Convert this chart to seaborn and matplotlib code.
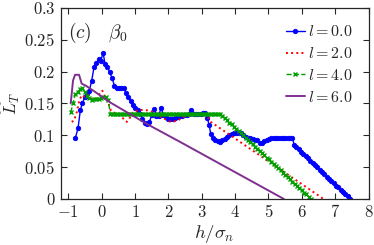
import matplotlib
matplotlib.use("Agg")
import matplotlib.pyplot as plt
import seaborn as sns
from matplotlib.ticker import FuncFormatter

# ---------------- data ----------------
labels = [r"$l = 0.0$", r"$l = 2.0$", r"$l = 4.0$", r"$l = 6.0$"]

bx = [-0.79, -0.71, -0.64, -0.58, -0.51, -0.44, -0.37, -0.30, -0.23, -0.16, -0.09, -0.03,
      0.04, 0.10, 0.17, 0.24, 0.31, 0.38, 0.45, 0.52, 0.59, 0.66,
      0.73, 0.80, 0.87, 0.94, 1.01, 1.08, 1.15, 1.22, 1.29, 1.36,
      1.43, 1.50, 1.57, 1.64, 1.71, 1.78, 1.85, 1.92, 1.99, 2.06,
      2.13, 2.20, 2.27, 2.34, 2.41, 2.48, 2.55, 2.62, 2.69, 2.76,
      2.83, 2.90, 2.97, 3.04, 3.11,
      3.17, 3.22, 3.27,
      3.34, 3.41, 3.48, 3.55, 3.62, 3.69, 3.76, 3.83, 3.90, 3.97,
      4.04, 4.11, 4.18, 4.25, 4.32, 4.39, 4.46, 4.53, 4.60, 4.67,
      4.74, 4.81, 4.88, 4.95, 5.02, 5.09, 5.16, 5.23, 5.30, 5.37,
      5.44, 5.51, 5.58, 5.65, 5.72,
      5.77, 5.84, 5.91, 5.98, 6.05, 6.12, 6.19, 6.26, 6.33, 6.40,
      6.47, 6.54, 6.61, 6.68, 6.75, 6.82, 6.89, 6.96, 7.03, 7.10,
      7.17, 7.24, 7.31, 7.38, 7.45]
by = [0.096, 0.111, 0.140, 0.150, 0.160, 0.165, 0.170, 0.186, 0.207, 0.213, 0.220, 0.216,
      0.230, 0.212, 0.208, 0.199, 0.190, 0.178, 0.175, 0.175, 0.175, 0.174,
      0.166, 0.160, 0.154, 0.147, 0.143, 0.139, 0.134, 0.126, 0.120, 0.118,
      0.121, 0.132, 0.142, 0.131, 0.131, 0.143, 0.132, 0.128, 0.126, 0.126,
      0.125, 0.127, 0.129, 0.130, 0.131, 0.132, 0.132, 0.133, 0.139, 0.134,
      0.134, 0.134, 0.134, 0.135, 0.135,
      0.127, 0.116, 0.102,
      0.096, 0.093, 0.091, 0.089, 0.092, 0.094, 0.097, 0.101, 0.102, 0.103,
      0.103, 0.104, 0.104, 0.101, 0.097, 0.096, 0.095, 0.094, 0.093, 0.092,
      0.088, 0.088, 0.091, 0.093, 0.094, 0.095, 0.096, 0.096, 0.096, 0.096,
      0.096, 0.096, 0.096, 0.096, 0.096,
      0.085, 0.081, 0.078, 0.074, 0.071, 0.067, 0.064, 0.060, 0.057, 0.053,
      0.050, 0.046, 0.042, 0.039, 0.035, 0.032, 0.028, 0.025, 0.021, 0.018,
      0.014, 0.011, 0.007, 0.004, 0.000]

rx = [-0.90, -0.83, -0.75, -0.67, -0.60, -0.50, -0.40, -0.30, -0.15, -0.04, 0.02, 0.10,
      0.19, 0.28, 0.43, 0.58, 0.68, 0.75, 0.83, 0.93, 1.08, 1.23, 1.38, 1.53, 1.68,
      1.88, 2.07, 2.27, 2.47, 2.67, 2.97, 3.17, 3.27, 6.65]
ry = [0.121, 0.123, 0.136, 0.155, 0.163, 0.160, 0.163, 0.157, 0.157, 0.168, 0.170, 0.160,
      0.152, 0.138, 0.134, 0.129, 0.125, 0.121, 0.126, 0.136, 0.139, 0.140, 0.139, 0.137, 0.131,
      0.126, 0.121, 0.123, 0.129, 0.131, 0.133, 0.129, 0.121, 0.000]

gx = [-0.93, -0.86, -0.79, -0.72, -0.65, -0.58, -0.51, -0.44, -0.37, -0.30,
      -0.23, -0.16, -0.09, -0.02, 0.05, 0.12, 0.19, 0.26,
      0.33, 0.40, 0.47, 0.54, 0.61, 0.68, 0.75, 0.82, 0.89, 0.96,
      1.03, 1.10, 1.17, 1.24, 1.31, 1.38, 1.45, 1.52, 1.59, 1.66,
      1.73, 1.80, 1.87, 1.94, 2.01, 2.08, 2.15, 2.22, 2.29, 2.36,
      2.43, 2.50, 2.57, 2.64, 2.71, 2.78, 2.85, 2.92, 2.99, 3.06,
      3.13, 3.20, 3.27, 3.34, 3.41, 3.48, 3.55,
      3.62, 3.69, 3.76, 3.83, 3.90, 3.97, 4.04, 4.11, 4.18, 4.25,
      4.32, 4.39, 4.46, 4.53, 4.60, 4.67, 4.74, 4.81, 4.88, 4.95,
      5.02, 5.09, 5.16, 5.23, 5.30, 5.37, 5.44, 5.51, 5.58, 5.65,
      5.72, 5.79, 5.86, 5.93, 6.00, 6.07, 6.14, 6.21, 6.28]
gy = [0.136, 0.150, 0.165, 0.168, 0.172, 0.174, 0.168, 0.162, 0.158, 0.155,
      0.157, 0.157, 0.157, 0.158, 0.160, 0.160, 0.155, 0.134,
      0.134, 0.134, 0.134, 0.134, 0.134, 0.134, 0.134, 0.134, 0.134, 0.134,
      0.134, 0.134, 0.134, 0.134, 0.134, 0.134, 0.134, 0.134, 0.134, 0.134,
      0.134, 0.134, 0.134, 0.134, 0.134, 0.134, 0.134, 0.134, 0.134, 0.134,
      0.134, 0.134, 0.134, 0.134, 0.134, 0.134, 0.134, 0.134, 0.134, 0.134,
      0.134, 0.134, 0.134, 0.134, 0.134, 0.134, 0.134,
      0.131, 0.127, 0.124, 0.120, 0.117, 0.113, 0.110, 0.107, 0.103, 0.100,
      0.096, 0.093, 0.089, 0.086, 0.082, 0.079, 0.076, 0.072, 0.069, 0.065,
      0.062, 0.058, 0.055, 0.052, 0.048, 0.045, 0.041, 0.038, 0.034, 0.031,
      0.027, 0.024, 0.021, 0.017, 0.014, 0.010, 0.007, 0.003, 0.000]

px = [-0.93, -0.86, -0.80, -0.68, -0.60, -0.48, -0.25, 0.24, 1.38, 2.37, 5.46]
py = [0.150, 0.186, 0.195, 0.195, 0.181, 0.178, 0.170, 0.152, 0.117, 0.089, 0.000]

xticks = [-1, 0, 1, 2, 3, 4, 5, 6, 7, 8]
yticks = [0, 0.05, 0.1, 0.15, 0.2, 0.25, 0.3]

# ---------------- style ----------------
sns.set_style("ticks")
plt.rcParams['mathtext.fontset'] = 'cm'
plt.rcParams['font.family'] = ['DejaVu Serif']

fig = plt.figure(figsize=(3.74, 2.45), dpi=100)
ax = fig.add_axes([0.1623, 0.188, 0.823, 0.7796])

sns.lineplot(x=bx, y=by, ax=ax, sort=False, estimator=None, color='#0000ff',
             linewidth=1.0, marker='o', markersize=3.2, markeredgewidth=0.6,
             markeredgecolor='#0000ff', label=labels[0])
sns.lineplot(x=rx, y=ry, ax=ax, sort=False, estimator=None, color='#ff0000',
             linewidth=1.4, linestyle=':', label=labels[1])
sns.lineplot(x=gx, y=gy, ax=ax, sort=False, estimator=None, color='#00a000',
             linewidth=1.0, linestyle='--', marker='x', markersize=3.0,
             markeredgewidth=1.0, markeredgecolor='#00a000', label=labels[2])
sns.lineplot(x=px, y=py, ax=ax, sort=False, estimator=None, color='#7e2f8e',
             linewidth=1.4, label=labels[3])

ax.set_xlim(-1.23, 8)
ax.set_ylim(0, 0.3)
ax.set_xticks(xticks)
ax.set_yticks(yticks)
ax.xaxis.set_major_formatter(FuncFormatter(lambda v, p: "$%g$" % round(v, 2)))
ax.yaxis.set_major_formatter(FuncFormatter(lambda v, p: "$%g$" % round(v, 2)))
ax.tick_params(direction='in', top=True, right=True, length=4, width=0.8,
               labelsize=12, colors='#262626', pad=4)
for s in ax.spines.values():
    s.set_linewidth(0.9)
    s.set_color('#262626')

ax.set_xlabel(r"$h/\sigma_n$", fontsize=13.5, labelpad=1)
ax.set_ylabel(r"$\widehat{L}_T$", fontsize=12.5)
ax.yaxis.set_label_coords(-0.125, 0.5)

ax.text(0.025, 0.87, r"$(c)\ \ \ \beta_0$", transform=ax.transAxes, fontsize=14,
        color='#262626', va='center', ha='left')

leg = ax.legend(loc='upper right', bbox_to_anchor=(0.979, 0.969), frameon=False,
                fontsize=11.5, handlelength=1.2, handletextpad=0.2,
                labelspacing=0.3, borderaxespad=0.2)

fig.savefig("out.png", dpi=100)
